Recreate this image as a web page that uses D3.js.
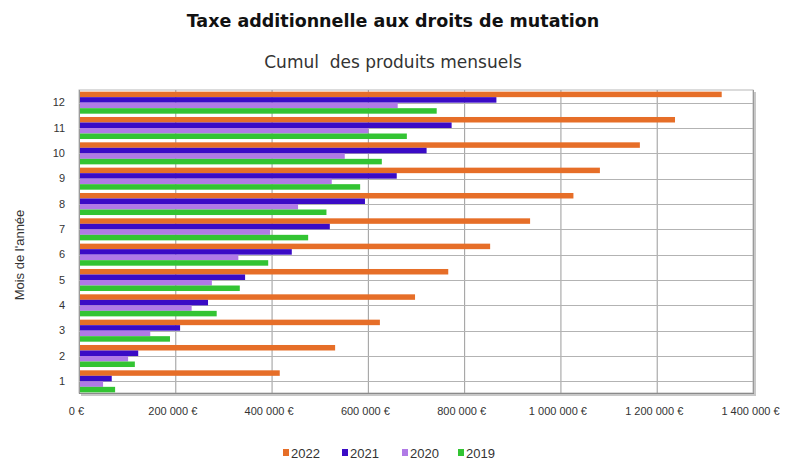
<!DOCTYPE html>
<html>
<head>
<meta charset="utf-8">
<script src="https://cdn.jsdelivr.net/npm/d3@7"></script>
<style>
  html, body { margin: 0; padding: 0; background: #ffffff; }
  svg { display: block; }
</style>
</head>
<body>
<svg id="chart" width="786" height="461"></svg>
<script>
// Months of the year (category axis) and cumulative monthly revenue per year
const months = ["1", "2", "3", "4", "5", "6", "7", "8", "9", "10", "11", "12"];
const years = ["2022", "2021", "2020", "2019"];

const values2022 = [417000, 532000, 625000, 698000, 767000, 854000, 937000, 1027000, 1082000, 1165000, 1238000, 1335000];
const values2021 = [68000, 123000, 210000, 268000, 345000, 442000, 521000, 594000, 660000, 722000, 774000, 867000];
const values2020 = [50000, 102000, 148000, 234000, 276000, 331000, 397000, 455000, 525000, 552000, 601000, 662000];
const values2019 = [75000, 116000, 189000, 286000, 334000, 393000, 476000, 514000, 584000, 629000, 681000, 743000];

const xTickValues = [0, 200000, 400000, 600000, 800000, 1000000, 1200000, 1400000];
const xTickLabels = ["0 €", "200 000 €", "400 000 €", "600 000 €", "800 000 €", "1 000 000 €", "1 200 000 €", "1 400 000 €"];

const seriesValues = { "2022": values2022, "2021": values2021, "2020": values2020, "2019": values2019 };
const colors = { "2022": "#e66e28", "2021": "#3a0bc6", "2020": "#b07ae6", "2019": "#33c433" };

const rows = months.map((m, i) => ({ month: m, vals: years.map(y => ({ year: y, value: seriesValues[y][i] })) }));

const svg = d3.select("#chart");
const plot = { left: 79, right: 753, top: 90, bottom: 393 };

const x = d3.scaleLinear().domain([0, 1400000]).range([plot.left, plot.right]);
const y = d3.scaleBand().domain(months.slice().reverse()).range([plot.top, plot.bottom + 1]).padding(0);
const yInner = d3.scaleBand().domain(years).range([0, y.bandwidth()]).paddingInner(0).paddingOuter(0.3);

// Titles
svg.append("text")
  .attr("x", 393).attr("y", 27)
  .attr("text-anchor", "middle")
  .style("font-family", "'DejaVu Sans', Verdana, sans-serif")
  .style("font-weight", "bold")
  .style("font-size", "17.5px")
  .attr("fill", "#111")
  .text("Taxe additionnelle aux droits de mutation");

svg.append("text")
  .attr("x", 393).attr("y", 68)
  .attr("text-anchor", "middle")
  .style("font-family", "'DejaVu Sans', sans-serif")
  .style("font-size", "17px")
  .style("white-space", "pre")
  .attr("fill", "#333")
  .text("Cumul  des produits mensuels");

// Plot area shadow and frame
svg.append("rect")
  .attr("x", plot.left + 2).attr("y", plot.top + 2)
  .attr("width", plot.right - plot.left + 1).attr("height", plot.bottom - plot.top + 1)
  .attr("fill", "#c8c8c8");
svg.append("rect")
  .attr("x", plot.left).attr("y", plot.top)
  .attr("width", plot.right - plot.left).attr("height", plot.bottom - plot.top)
  .attr("fill", "#ffffff")
  .attr("stroke", "#b8b8b8");

// Vertical grid lines
svg.append("g")
  .selectAll("line")
  .data(xTickValues)
  .join("line")
  .attr("x1", d => x(d) + 0.5).attr("x2", d => x(d) + 0.5)
  .attr("y1", plot.top).attr("y2", plot.bottom)
  .attr("stroke", "#9a9a9a").attr("stroke-width", 1);

// Horizontal grid lines through each month
svg.append("g")
  .selectAll("line")
  .data(months)
  .join("line")
  .attr("x1", plot.left).attr("x2", plot.right)
  .attr("y1", d => Math.round(y(d) + y.bandwidth() / 2) + 0.5)
  .attr("y2", d => Math.round(y(d) + y.bandwidth() / 2) + 0.5)
  .attr("stroke", "#b3b3b3").attr("stroke-width", 1);

// Bars
const groups = svg.append("g")
  .selectAll("g")
  .data(rows)
  .join("g")
  .attr("transform", d => `translate(0,${y(d.month)})`);

groups.selectAll("rect")
  .data(d => d.vals)
  .join("rect")
  .attr("x", x(0) + 1)
  .attr("y", d => yInner(d.year))
  .attr("width", d => x(d.value) - x(0) - 1)
  .attr("height", yInner.bandwidth())
  .attr("fill", d => colors[d.year]);

// Bottom axis line
svg.append("line")
  .attr("x1", plot.left).attr("x2", plot.right + 1)
  .attr("y1", plot.bottom + 0.5).attr("y2", plot.bottom + 0.5)
  .attr("stroke", "#8a8a8a");

// X axis labels
const xAxis = d3.axisBottom(x)
  .tickValues(xTickValues)
  .tickFormat((d, i) => xTickLabels[i])
  .tickSize(0)
  .tickPadding(14);
const gx = svg.append("g").attr("transform", `translate(-3,${plot.bottom})`).call(xAxis);
gx.select(".domain").remove();
gx.selectAll("text")
  .style("font-family", "'Liberation Sans', Arial, sans-serif")
  .style("font-size", "11px")
  .attr("fill", "#333");

// Y axis labels
const yAxis = d3.axisLeft(y).tickSize(0).tickPadding(14);
const gy = svg.append("g").attr("transform", `translate(${plot.left},0)`).call(yAxis);
gy.select(".domain").remove();
gy.selectAll("text")
  .style("font-family", "'Liberation Sans', Arial, sans-serif")
  .style("font-size", "11px")
  .attr("fill", "#333");

svg.append("text")
  .attr("transform", "translate(24,255) rotate(-90)")
  .attr("text-anchor", "middle")
  .style("font-family", "'Liberation Sans', Arial, sans-serif")
  .style("font-size", "13px")
  .attr("fill", "#333")
  .text("Mois de l'année");

// Legend
const legendX = [283, 342, 402, 458];
const legend = svg.append("g")
  .selectAll("g")
  .data(years)
  .join("g")
  .attr("transform", (d, i) => `translate(${legendX[i]},453)`);
legend.append("rect")
  .attr("x", 0).attr("y", -4)
  .attr("width", 6).attr("height", 7)
  .attr("fill", d => colors[d]);
legend.append("text")
  .attr("x", 8).attr("y", 5)
  .style("font-family", "'Liberation Sans', Arial, sans-serif")
  .style("font-size", "13px")
  .attr("fill", "#333")
  .text(d => d);
</script>
</body>
</html>
